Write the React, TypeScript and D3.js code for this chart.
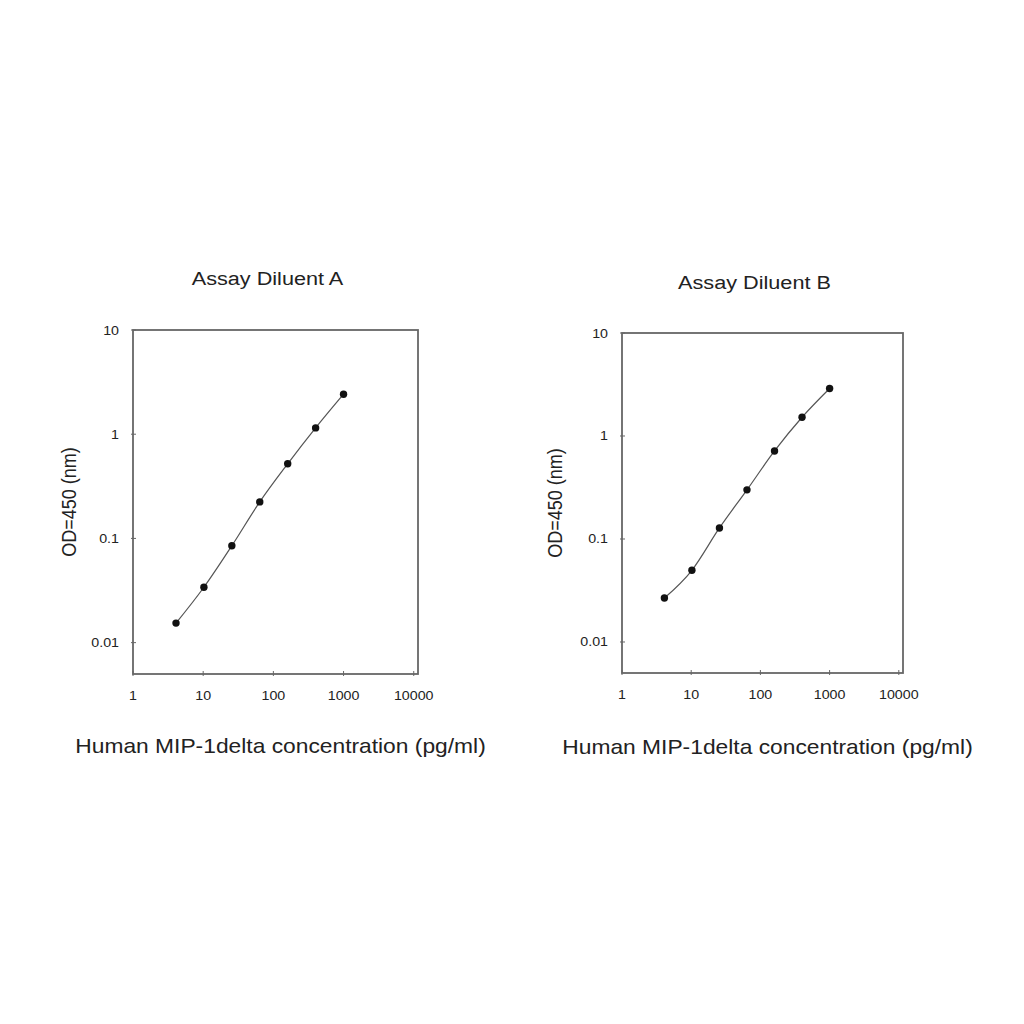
import React from 'react';
import * as d3 from 'd3';

const concentrations = [4.1, 10.24, 25.6, 64, 160, 400, 1000];
const odDiluentA = [0.0154, 0.034, 0.085, 0.224, 0.52, 1.15, 2.42];
const odDiluentB = [0.0267, 0.0497, 0.128, 0.3, 0.716, 1.52, 2.89];
const xTicks = [1, 10, 100, 1000, 10000];
const yTicks = [0.01, 0.1, 1, 10];
const xLabel = 'Human MIP-1delta concentration (pg/ml)';
const yLabel = 'OD=450 (nm)';

// the scanned figure is a little wider than tall, so horizontal text is stretched
const stretch = 1.14;

interface PanelProps {
  title: string;
  values: number[];
  left: number;
  right: number;
  top: number;
  bottom: number;
  titleY: number;
  xLabelY: number;
  yLabelX: number;
}

function WideText({ x, y, size, anchor = 'middle', children }: { x: number; y: number; size: number; anchor?: string; children: React.ReactNode }) {
  return (
    <text transform={`translate(${x},${y}) scale(${stretch},1)`} textAnchor={anchor} fontSize={size} fill="#222">
      {children}
    </text>
  );
}

function Panel({ title, values, left, right, top, bottom, titleY, xLabelY, yLabelX }: PanelProps) {
  const x = d3.scaleLog().domain([1, 11500]).range([left, right]);
  const y = d3.scaleLog().domain([0.005, 10]).range([bottom, top]);
  const pts = concentrations.map((c, i) => [c, values[i]] as [number, number]);
  const line = d3.line<[number, number]>()
    .x(d => x(d[0]))
    .y(d => y(d[1]))
    .curve(d3.curveMonotoneX);
  const cx = (left + right) / 2;
  const cy = (top + bottom) / 2;

  return (
    <g>
      <WideText x={cx - 8} y={titleY} size={19}>{title}</WideText>
      <rect x={left} y={top} width={right - left} height={bottom - top} fill="none" stroke="#666" strokeWidth={1.8} />
      {xTicks.map(t => (
        <g key={'x' + t}>
          <line x1={x(t)} x2={x(t)} y1={bottom + 2} y2={bottom - 3} stroke="#666" />
          <WideText x={x(t)} y={bottom + 26} size={12.5}>{t}</WideText>
        </g>
      ))}
      {yTicks.map(t => (
        <g key={'y' + t}>
          <line x1={left - 2} x2={left + 3} y1={y(t)} y2={y(t)} stroke="#666" />
          <WideText x={left - 14} y={y(t) + 4.5} size={12.5} anchor="end">{t}</WideText>
        </g>
      ))}
      <path d={line(pts) || ''} fill="none" stroke="#555" strokeWidth={1.2} />
      {pts.map((d, i) => (
        <circle key={i} cx={x(d[0])} cy={y(d[1])} r={3.7} fill="#111" />
      ))}
      <WideText x={cx + 5} y={xLabelY} size={20}>{xLabel}</WideText>
      <text transform={`translate(${yLabelX},${cy}) rotate(-90) scale(1,${stretch})`} textAnchor="middle" fontSize={18} fill="#222">{yLabel}</text>
    </g>
  );
}

export default function App() {
  return (
    <svg width={1024} height={1024} style={{ position: 'absolute', left: 0, top: 0, fontFamily: 'Arial, "Liberation Sans", sans-serif', background: '#fff' }}>
      <rect width={1024} height={1024} fill="#fff" />
      <Panel title="Assay Diluent A" values={odDiluentA} left={133} right={418} top={330} bottom={674}
        titleY={285} xLabelY={753} yLabelX={76} />
      <Panel title="Assay Diluent B" values={odDiluentB} left={622} right={903} top={333} bottom={673}
        titleY={289} xLabelY={754} yLabelX={562} />
    </svg>
  );
}
